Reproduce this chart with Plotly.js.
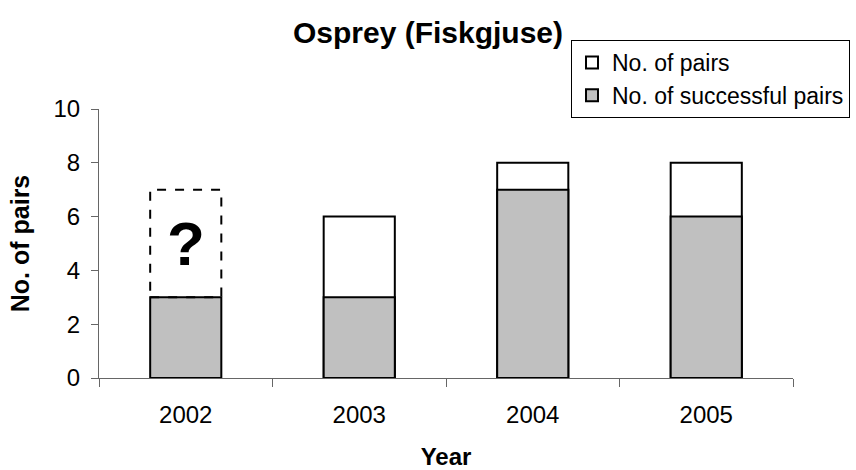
<!DOCTYPE html>
<html>
<head>
<meta charset="utf-8">
<script src="https://cdn.plot.ly/plotly-3.0.1.min.js"></script>
<style>html,body{margin:0;padding:0;background:#fff;}#chart{width:856px;height:470px;}</style>
</head>
<body>
<div id="chart"></div>
<script>
const years = ['2002', '2003', '2004', '2005'];
const pairs = [7, 6, 8, 8];
const successful = [3, 3, 7, 6];
const uncertain = [true, false, false, false];
const seriesNames = ['No. of pairs', 'No. of successful pairs'];
const chartTitle = 'Osprey (Fiskgjuse)';
const xTitle = 'Year';
const yTitle = 'No. of pairs';

const FONT = 'Liberation Sans, Arial, sans-serif';
const BW = 0.41;

const traces = [
  {
    type: 'bar', x: years, y: pairs.map((v, i) => uncertain[i] ? null : v),
    name: seriesNames[0], width: BW,
    marker: { color: '#ffffff', line: { color: '#000000', width: 2 } },
    hoverinfo: 'x+y'
  },
  {
    type: 'bar', x: years.filter((_, i) => uncertain[i]), y: pairs.filter((_, i) => uncertain[i]),
    name: seriesNames[0] + ' (uncertain)', width: BW, showlegend: false,
    marker: { color: '#ffffff', line: { color: 'rgba(0,0,0,0)', width: 0 } },
    hoverinfo: 'x+y'
  },
  {
    type: 'bar', x: years, y: successful, name: seriesNames[1], width: BW,
    marker: { color: '#c0c0c0', line: { color: '#000000', width: 2 } },
    hoverinfo: 'x+y'
  }
];

const shapes = [];
const annotations = [];
years.forEach((yr, i) => {
  if (uncertain[i]) {
    shapes.push({
      type: 'rect', xref: 'x', yref: 'y', layer: 'above',
      x0: i - BW / 2, x1: i + BW / 2, y0: successful[i], y1: pairs[i],
      line: { color: '#000000', width: 2, dash: 'dash' }, fillcolor: 'rgba(0,0,0,0)'
    });
    annotations.push({
      xref: 'x', yref: 'y', x: i, y: (successful[i] + pairs[i]) / 2,
      text: '<b>?</b>', showarrow: false,
      font: { family: FONT, size: 62, color: '#000' }
    });
  }
});

const layout = {
  width: 856, height: 470,
  margin: { l: 99, r: 63, t: 109, b: 92, pad: 0, autoexpand: false },
  paper_bgcolor: '#ffffff', plot_bgcolor: '#ffffff',
  font: { family: FONT, color: '#000' },
  barmode: 'overlay',
  showlegend: true,
  title: {
    text: '<b>' + chartTitle + '</b>',
    font: { family: FONT, size: 30, color: '#000' },
    x: 0.5, xref: 'container', xanchor: 'center',
    y: 1 - 32 / 470, yref: 'container', yanchor: 'middle'
  },
  xaxis: {
    type: 'category',
    categoryorder: 'array', categoryarray: years,
    range: [-0.5, years.length - 0.5], autorange: false,
    tickson: 'boundaries',
    ticks: 'outside', ticklen: 8, tickwidth: 1, tickcolor: '#666',
    showline: true, linecolor: '#666', linewidth: 1,
    showgrid: false, zeroline: false,
    tickfont: { family: FONT, size: 24, color: '#000' },
    ticklabelstandoff: 15,
    title: { text: '<b>' + xTitle + '</b>', font: { family: FONT, size: 24, color: '#000' }, standoff: 26 }
  },
  yaxis: {
    range: [0, 10], autorange: false, dtick: 2, tick0: 0,
    ticks: 'outside', ticklen: 7, tickwidth: 1, tickcolor: '#666',
    showline: true, linecolor: '#666', linewidth: 1,
    showgrid: false, zeroline: false,
    tickfont: { family: FONT, size: 24, color: '#000' },
    ticklabelstandoff: 6,
    title: { text: '<b>' + yTitle + '</b>', font: { family: FONT, size: 25, color: '#000' }, standoff: 16 }
  },
  legend: {
    x: (571 - 99) / 694, xref: 'paper', xanchor: 'left',
    y: 1 - 40 / 470, yref: 'container', yanchor: 'top',
    bgcolor: '#ffffff', bordercolor: '#000000', borderwidth: 1,
    font: { family: FONT, size: 23, color: '#000' },
    traceorder: 'normal', itemwidth: 30, tracegroupgap: 0
  },
  shapes: shapes,
  annotations: annotations
};

Plotly.newPlot('chart', traces, layout, { displayModeBar: false, staticPlot: true });
</script>
</body>
</html>
